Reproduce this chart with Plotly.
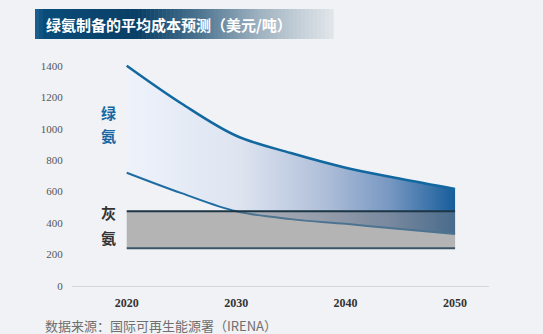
import plotly.graph_objects as go

# ---- data ----
years = [2020, 2025, 2030, 2035, 2040, 2045, 2050]
green_high = [1400, 1160, 955, 845, 752, 682, 617]
green_low = [720, 590, 475, 425, 395, 362, 330]
grey_years = [2020, 2050]
grey_high = [475, 475]
grey_low = [240, 240]
x_ticks = [2020, 2030, 2040, 2050]
y_ticks = [0, 200, 400, 600, 800, 1000, 1200, 1400]

W, H = 543, 334
L, R, T, B = 72, 54, 50, 48
PW, PH = W - L - R, H - T - B

def px(x):
    return (x - L) / PW

def py(y):
    return (H - B - y) / PH

fig = go.Figure()

# grey band base (light, opaque)
fig.add_trace(go.Scatter(x=grey_years, y=grey_low, mode="lines", line=dict(width=0),
                         showlegend=False, hoverinfo="skip"))
fig.add_trace(go.Scatter(x=grey_years, y=grey_high, mode="lines", line=dict(width=0),
                         fill="tonexty", fillcolor="rgb(239,239,239)", showlegend=False, hoverinfo="skip"))

# green band with horizontal gradient
fig.add_trace(go.Scatter(x=years, y=green_low, mode="lines", line=dict(width=0, shape="spline"),
                         showlegend=False, hoverinfo="skip"))
fig.add_trace(go.Scatter(x=years, y=green_high, mode="lines", line=dict(width=0, shape="spline"),
                         fill="tonexty",
                         fillgradient=dict(type="horizontal",
                                           colorscale=[[0, "#eef2fb"], [0.35, "#dde4f0"],
                                                       [0.6, "#b0bfd9"], [0.8, "#7898c2"],
                                                       [1, "#175d9b"]]),
                         showlegend=False, hoverinfo="skip"))

# lower green line (under the grey tint)
fig.add_trace(go.Scatter(x=years, y=green_low, mode="lines",
                         line=dict(color="#1f6ca2", width=2, shape="spline"),
                         showlegend=False, hoverinfo="skip"))

# grey overlay (semi-transparent)
fig.add_trace(go.Scatter(x=grey_years, y=grey_low, mode="lines", line=dict(width=0),
                         showlegend=False, hoverinfo="skip"))
fig.add_trace(go.Scatter(x=grey_years, y=grey_high, mode="lines", line=dict(width=0),
                         fill="tonexty", fillcolor="rgba(122,122,124,0.5)",
                         showlegend=False, hoverinfo="skip"))

# other lines
fig.add_trace(go.Scatter(x=years, y=green_high, mode="lines",
                         line=dict(color="#11679f", width=2.5, shape="spline"),
                         showlegend=False, hoverinfo="skip"))
fig.add_trace(go.Scatter(x=grey_years, y=grey_high, mode="lines",
                         line=dict(color="#1d3645", width=2.2),
                         showlegend=False, hoverinfo="skip"))
fig.add_trace(go.Scatter(x=grey_years, y=grey_low, mode="lines",
                         line=dict(color="#3b5566", width=2.2),
                         showlegend=False, hoverinfo="skip"))

# title gradient box
shapes = []
stops = [(0, (31, 99, 145)), (0.03, (11, 77, 122)), (0.35, (10, 63, 102)),
         (0.55, (77, 117, 145)), (0.75, (159, 178, 192)), (1, (226, 231, 235))]

def interp(t):
    for i in range(len(stops) - 1):
        a, ca = stops[i]
        b, cb = stops[i + 1]
        if a <= t <= b:
            f = (t - a) / (b - a) if b > a else 0
            return tuple(int(ca[k] + (cb[k] - ca[k]) * f) for k in range(3))
    return stops[-1][1]

x0, x1, y0, y1 = 35, 333, 9, 39
N = 75
for i in range(N):
    xa = x0 + (x1 - x0) * i / N
    xb = x0 + (x1 - x0) * (i + 1) / N + 0.6
    c = interp((i + 0.5) / N)
    shapes.append(dict(type="rect", xref="paper", yref="paper",
                       x0=px(xa), x1=px(xb), y0=py(y1), y1=py(y0),
                       fillcolor="rgb(%d,%d,%d)" % c, line=dict(width=0), layer="below"))

annotations = [
    dict(text="<b>绿氨制备的平均成本预测（美元/吨）</b>", xref="paper", yref="paper",
         x=px(44), y=py(24), xanchor="left", yanchor="middle", showarrow=False,
         font=dict(family="Noto Sans CJK SC", size=15, color="white")),
    dict(text="数据来源：国际可再生能源署（IRENA）", xref="paper", yref="paper",
         x=px(43), y=py(325), xanchor="left", yanchor="middle", showarrow=False,
         font=dict(family="Noto Sans CJK SC", size=13, color="#6f6f6f")),
]
for ch, yy, col in [("绿", 112, "#1667a3"), ("氨", 135, "#1667a3"),
                    ("灰", 213, "#333333"), ("氨", 237, "#333333")]:
    annotations.append(dict(text="<b>%s</b>" % ch, xref="paper", yref="paper",
                            x=px(108), y=py(yy), xanchor="center", yanchor="middle",
                            showarrow=False,
                            font=dict(family="Noto Sans CJK SC", size=15, color=col)))

fig.update_layout(
    width=W, height=H,
    margin=dict(l=L, r=R, t=T, b=B),
    paper_bgcolor="#f0f2f5", plot_bgcolor="#f0f2f5",
    shapes=shapes, annotations=annotations,
    showlegend=False,
)
fig.update_xaxes(range=[2015, 2053.1], tickvals=x_ticks,
                 ticktext=["<b>%d</b>" % v for v in x_ticks],
                 showgrid=False, zeroline=False, showline=False,
                 ticks="outside", ticklen=6, tickcolor="rgba(0,0,0,0)",
                 tickfont=dict(family="Liberation Serif", size=12, color="#333"))
fig.update_yaxes(range=[0, 1500], tickvals=y_ticks,
                 showgrid=False, zeroline=True, zerolinecolor="#d4d6da", zerolinewidth=1.2,
                 showline=False, ticks="outside", ticklen=6, tickcolor="rgba(0,0,0,0)",
                 tickfont=dict(family="Liberation Serif", size=11, color="#555"))

fig.write_html("out.html")
